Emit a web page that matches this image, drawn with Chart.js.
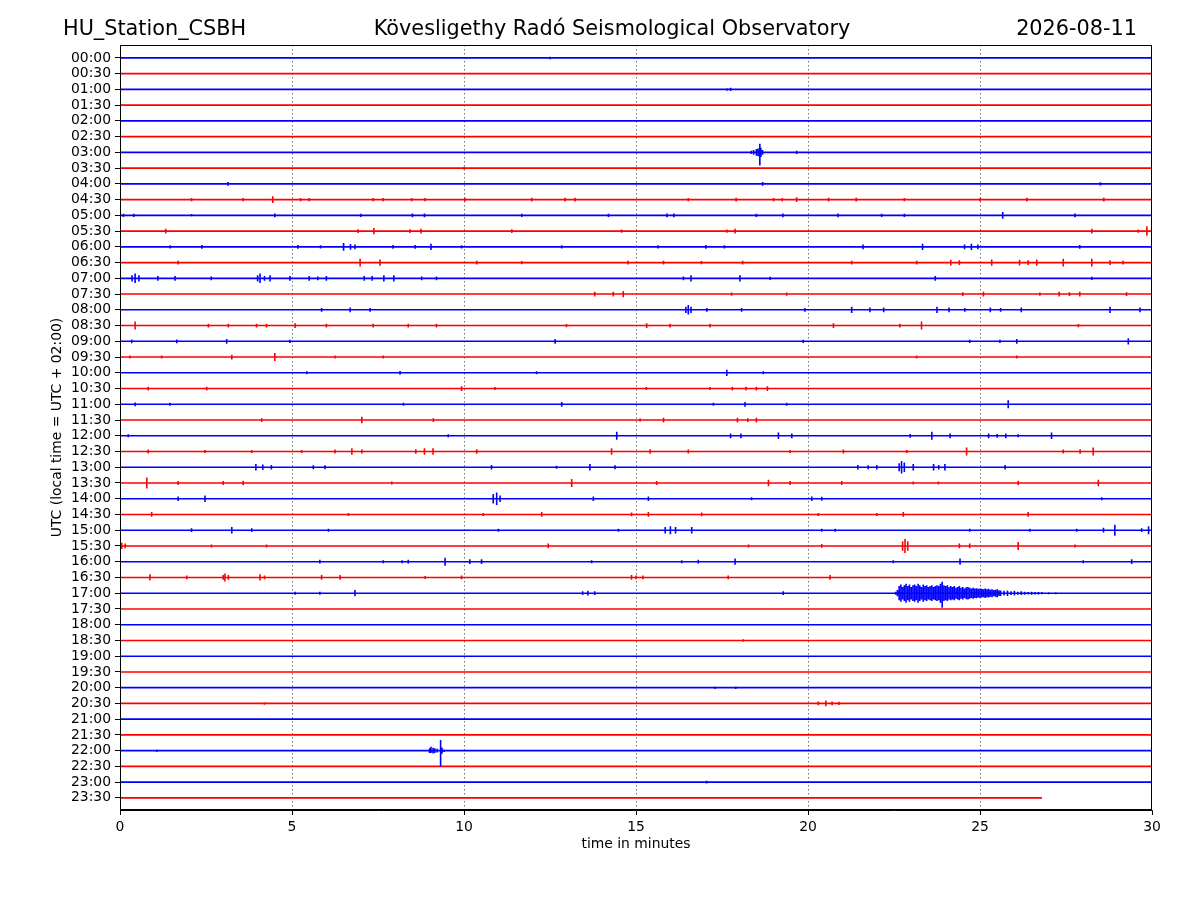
<!DOCTYPE html>
<html lang="en">
<head>
  <meta charset="UTF-8">
  <title>HU_Station_CSBH - helicorder</title>
  <script src="https://cdn.jsdelivr.net/npm/chart.js"></script>
  <style>
    body { margin: 0; background: #fff; }
  </style>
</head>
<body>
  <canvas id="heli" width="1200" height="900"></canvas>

  <script>
    // header texts
    const stationName = 'HU_Station_CSBH';
    const observatory = 'Kövesligethy Radó Seismological Observatory';
    const dayLabel = '2026-08-11';

    // one trace per half hour, top to bottom
    const rowLabels = [
      '00:00', '00:30', '01:00', '01:30', '02:00', '02:30', '03:00', '03:30',
      '04:00', '04:30', '05:00', '05:30', '06:00', '06:30', '07:00', '07:30',
      '08:00', '08:30', '09:00', '09:30', '10:00', '10:30', '11:00', '11:30',
      '12:00', '12:30', '13:00', '13:30', '14:00', '14:30', '15:00', '15:30',
      '16:00', '16:30', '17:00', '17:30', '18:00', '18:30', '19:00', '19:30',
      '20:00', '20:30', '21:00', '21:30', '22:00', '22:30', '23:00', '23:30'
    ];
    const xTicks = [0, 5, 10, 15, 20, 25, 30];
    const lastTraceEnd = 26.8;   // the 23:30 trace stops early

    // bursts per trace: [minute, swing up, swing down (optional)] in trace-spacing units
    const bursts = [
      [[12.5, 0.08]],
      [],
      [[17.65, 0.08], [17.75, 0.1]],
      [],
      [],
      [],
      [[18.35, 0.1], [18.42, 0.15], [18.5, 0.22], [18.55, 0.25], [18.6, 0.54, 0.83], [18.63, 0.3], [18.68, 0.15], [19.67, 0.1]],
      [[10.0, 0.08]],
      [[3.14, 0.12], [18.68, 0.12], [28.5, 0.1]],
      [[2.08, 0.1], [3.58, 0.1], [4.44, 0.22], [5.25, 0.1], [5.5, 0.1], [7.36, 0.1], [7.65, 0.1], [8.48, 0.1], [8.87, 0.1], [10.03, 0.12], [11.97, 0.12], [12.94, 0.12], [13.23, 0.12], [16.52, 0.1], [17.91, 0.12], [19.0, 0.1], [19.25, 0.1], [19.67, 0.15], [20.6, 0.12], [21.4, 0.12], [22.8, 0.1], [25.0, 0.1], [26.36, 0.12], [28.6, 0.12]],
      [[0.1, 0.1], [0.4, 0.1], [2.08, 0.08], [4.5, 0.12], [7.0, 0.1], [8.5, 0.12], [8.85, 0.12], [11.68, 0.1], [14.2, 0.1], [15.9, 0.12], [16.1, 0.12], [18.5, 0.1], [19.27, 0.12], [20.87, 0.12], [22.14, 0.1], [22.8, 0.1], [25.66, 0.22], [27.76, 0.12]],
      [[1.33, 0.15], [6.92, 0.12], [7.38, 0.2], [8.43, 0.12], [8.75, 0.15], [11.39, 0.12], [14.58, 0.1], [17.64, 0.1], [17.88, 0.15], [28.25, 0.15], [29.6, 0.1], [29.85, 0.3]],
      [[1.46, 0.1], [2.38, 0.12], [5.17, 0.12], [5.83, 0.1], [6.5, 0.25], [6.7, 0.18], [6.83, 0.15], [7.94, 0.12], [8.58, 0.12], [9.04, 0.2], [9.93, 0.1], [12.84, 0.1], [15.64, 0.1], [17.03, 0.12], [17.57, 0.1], [21.6, 0.15], [23.33, 0.2], [24.55, 0.15], [24.75, 0.2], [24.94, 0.15], [27.9, 0.12]],
      [[1.69, 0.12], [6.98, 0.25], [7.56, 0.2], [10.37, 0.12], [11.68, 0.1], [14.77, 0.12], [15.8, 0.12], [16.9, 0.1], [18.1, 0.12], [21.27, 0.12], [23.16, 0.12], [24.15, 0.18], [24.4, 0.15], [25.34, 0.2], [26.15, 0.18], [26.4, 0.15], [26.65, 0.2], [27.42, 0.25], [28.25, 0.25], [28.78, 0.15], [29.16, 0.12]],
      [[0.35, 0.2], [0.44, 0.3], [0.55, 0.2], [1.1, 0.15], [1.6, 0.15], [2.65, 0.12], [4.0, 0.2], [4.07, 0.3], [4.2, 0.15], [4.36, 0.2], [4.94, 0.15], [5.5, 0.15], [5.75, 0.12], [6.0, 0.15], [7.1, 0.15], [7.33, 0.15], [7.67, 0.2], [7.96, 0.2], [8.77, 0.12], [9.2, 0.12], [16.38, 0.12], [16.6, 0.2], [18.02, 0.2], [18.9, 0.1], [23.7, 0.15], [28.25, 0.1]],
      [[13.8, 0.15], [14.34, 0.15], [14.63, 0.2], [17.78, 0.1], [19.38, 0.1], [24.5, 0.12], [25.1, 0.15], [26.74, 0.1], [27.3, 0.15], [27.6, 0.12], [27.9, 0.15], [29.26, 0.12]],
      [[5.86, 0.12], [6.69, 0.15], [7.27, 0.12], [16.45, 0.2], [16.52, 0.3], [16.6, 0.2], [17.06, 0.12], [18.07, 0.12], [19.91, 0.12], [21.27, 0.2], [21.8, 0.15], [22.2, 0.15], [23.75, 0.2], [24.1, 0.15], [24.56, 0.12], [25.3, 0.15], [25.6, 0.12], [26.2, 0.15], [28.78, 0.2], [29.65, 0.15]],
      [[0.44, 0.25], [2.57, 0.12], [3.15, 0.12], [3.97, 0.12], [4.26, 0.12], [5.09, 0.15], [6.0, 0.12], [7.36, 0.12], [8.38, 0.12], [9.2, 0.12], [12.98, 0.1], [15.31, 0.15], [15.99, 0.12], [17.15, 0.12], [20.74, 0.15], [22.67, 0.12], [23.3, 0.25], [27.86, 0.1]],
      [[0.34, 0.12], [1.65, 0.12], [3.1, 0.15], [4.94, 0.1], [12.65, 0.15], [19.86, 0.1], [24.7, 0.1], [25.58, 0.1], [26.07, 0.15], [29.31, 0.2]],
      [[0.29, 0.1], [1.21, 0.1], [3.25, 0.15], [4.5, 0.25], [6.25, 0.1], [7.65, 0.1], [23.16, 0.1], [26.07, 0.1]],
      [[5.43, 0.1], [8.14, 0.12], [12.11, 0.1], [17.64, 0.2], [18.7, 0.1]],
      [[0.82, 0.12], [2.52, 0.12], [9.93, 0.15], [10.9, 0.1], [15.3, 0.1], [17.15, 0.1], [17.8, 0.12], [18.2, 0.12], [18.5, 0.12], [18.82, 0.15]],
      [[0.44, 0.12], [1.45, 0.1], [8.24, 0.1], [12.84, 0.15], [17.25, 0.1], [18.17, 0.15], [19.38, 0.1], [25.82, 0.25]],
      [[4.12, 0.12], [7.03, 0.2], [9.11, 0.12], [15.12, 0.1], [15.8, 0.15], [17.95, 0.15], [18.25, 0.12], [18.5, 0.15]],
      [[0.24, 0.1], [9.54, 0.1], [14.44, 0.25], [17.75, 0.15], [18.05, 0.15], [19.14, 0.2], [19.53, 0.15], [22.97, 0.12], [23.6, 0.25], [24.13, 0.15], [25.25, 0.15], [25.5, 0.12], [25.75, 0.15], [26.11, 0.1], [27.08, 0.2]],
      [[0.82, 0.12], [2.47, 0.1], [3.83, 0.1], [5.28, 0.1], [6.25, 0.12], [6.74, 0.2], [7.03, 0.12], [8.6, 0.15], [8.85, 0.2], [9.1, 0.2], [10.37, 0.15], [14.29, 0.2], [15.41, 0.15], [16.52, 0.12], [19.48, 0.1], [21.03, 0.12], [22.87, 0.1], [24.61, 0.25], [27.42, 0.12], [27.91, 0.15], [28.29, 0.25]],
      [[3.95, 0.2], [4.15, 0.18], [4.4, 0.15], [5.62, 0.12], [5.96, 0.12], [10.8, 0.15], [12.69, 0.1], [13.66, 0.2], [14.39, 0.12], [21.45, 0.15], [21.75, 0.12], [22.0, 0.15], [22.65, 0.25], [22.72, 0.4], [22.8, 0.3], [23.06, 0.2], [23.65, 0.2], [23.8, 0.15], [23.98, 0.2], [25.73, 0.15]],
      [[0.78, 0.35], [1.69, 0.12], [3.0, 0.12], [3.58, 0.15], [7.9, 0.1], [13.13, 0.25], [15.6, 0.12], [18.85, 0.2], [19.48, 0.12], [20.98, 0.12], [23.06, 0.1], [23.79, 0.1], [26.11, 0.15], [28.44, 0.2]],
      [[1.69, 0.15], [2.47, 0.2], [10.85, 0.3], [10.95, 0.4], [11.05, 0.2], [13.76, 0.15], [15.36, 0.15], [18.36, 0.1], [20.11, 0.15], [20.4, 0.12], [28.54, 0.1]],
      [[0.92, 0.15], [6.64, 0.1], [10.56, 0.1], [12.26, 0.15], [14.87, 0.12], [15.36, 0.15], [16.91, 0.12], [20.3, 0.1], [22.0, 0.1], [22.77, 0.15], [26.4, 0.15]],
      [[2.08, 0.12], [3.25, 0.2], [3.83, 0.12], [6.06, 0.1], [11.0, 0.1], [14.49, 0.1], [15.85, 0.2], [16.0, 0.25], [16.15, 0.2], [16.62, 0.2], [20.4, 0.1], [20.79, 0.1], [24.7, 0.1], [26.45, 0.1], [27.81, 0.1], [28.59, 0.15], [28.92, 0.35], [29.7, 0.12], [29.9, 0.25]],
      [[0.05, 0.2], [0.15, 0.15], [2.66, 0.1], [4.26, 0.1], [12.45, 0.15], [18.27, 0.1], [20.4, 0.12], [22.75, 0.3], [22.82, 0.45], [22.9, 0.3], [24.4, 0.15], [24.7, 0.15], [26.11, 0.25], [27.76, 0.1]],
      [[5.81, 0.12], [7.65, 0.1], [8.2, 0.1], [8.38, 0.12], [9.45, 0.25], [10.17, 0.15], [10.51, 0.15], [13.71, 0.1], [16.33, 0.1], [16.81, 0.12], [17.88, 0.2], [22.48, 0.1], [24.42, 0.2], [28.0, 0.1], [29.41, 0.15]],
      [[0.87, 0.2], [1.94, 0.12], [3.0, 0.15], [3.05, 0.25], [3.15, 0.15], [4.07, 0.2], [4.2, 0.12], [5.86, 0.15], [6.4, 0.15], [8.87, 0.1], [9.93, 0.12], [14.87, 0.15], [15.0, 0.12], [15.2, 0.12], [17.68, 0.12], [20.64, 0.15]],
      [[5.09, 0.1], [5.81, 0.1], [6.83, 0.2], [13.45, 0.12], [13.6, 0.15], [13.8, 0.12], [19.28, 0.12]],
      [],
      [],
      [[18.12, 0.08]],
      [],
      [],
      [[17.3, 0.08], [17.9, 0.08]],
      [[4.2, 0.08], [20.3, 0.12], [20.52, 0.18], [20.7, 0.12], [20.9, 0.1]],
      [],
      [],
      [[1.07, 0.08], [9.0, 0.15], [9.04, 0.24, 0.15], [9.1, 0.18], [9.15, 0.15], [9.22, 0.12], [9.32, 0.67, 1.0], [9.36, 0.2], [9.42, 0.08]],
      [],
      [[17.05, 0.08]],
      []
    ];

    // the long quake on the 17:00 trace, envelope read every 0.05 min
    const quakeRow = 34;
    const quake1700 = [
      [22.55, 0.1], [22.6, 0.2], [22.65, 0.45], [22.7, 0.55], [22.75, 0.4], [22.8, 0.5], [22.85, 0.6], [22.9, 0.45],
      [22.95, 0.55], [23.0, 0.4], [23.05, 0.5], [23.1, 0.55], [23.15, 0.45], [23.2, 0.6], [23.25, 0.5], [23.3, 0.4],
      [23.35, 0.55], [23.4, 0.45], [23.45, 0.5], [23.5, 0.4], [23.55, 0.45], [23.6, 0.5], [23.65, 0.4], [23.7, 0.45],
      [23.75, 0.5], [23.8, 0.45], [23.85, 0.6], [23.9, 0.72, 0.93], [23.95, 0.5], [24.0, 0.45], [24.05, 0.5], [24.1, 0.4],
      [24.15, 0.45], [24.2, 0.4], [24.25, 0.45], [24.3, 0.35], [24.35, 0.4], [24.4, 0.45], [24.45, 0.35], [24.5, 0.4],
      [24.55, 0.3], [24.6, 0.38], [24.65, 0.4], [24.7, 0.35], [24.75, 0.3], [24.8, 0.35], [24.85, 0.3], [24.9, 0.32],
      [24.95, 0.28], [25.0, 0.3], [25.05, 0.28], [25.1, 0.25], [25.15, 0.3], [25.2, 0.25], [25.25, 0.28], [25.3, 0.22],
      [25.35, 0.25], [25.4, 0.2], [25.45, 0.22], [25.5, 0.25], [25.55, 0.18], [25.6, 0.17], [25.7, 0.15], [25.8, 0.17],
      [25.9, 0.12], [26.0, 0.15], [26.1, 0.1], [26.2, 0.12], [26.3, 0.1], [26.4, 0.08], [26.5, 0.1], [26.6, 0.08],
      [26.7, 0.08], [26.8, 0.07], [27.0, 0.06], [27.2, 0.06], [27.4, 0.05], [27.6, 0.05]
    ];

    const FONT = '"DejaVu Sans", "Liberation Sans", sans-serif';

    // each burst becomes a vertical stroke on the trace's baseline
    function tracePoints(r) {
      const events = (r === quakeRow ? bursts[r].concat(quake1700) : bursts[r].slice())
        .sort((a, b) => a[0] - b[0]);
      const end = r === rowLabels.length - 1 ? lastTraceEnd : 30;
      const pts = [{ x: 0, y: r }];
      events.forEach(([t, up, down]) => {
        pts.push({ x: t, y: r }, { x: t, y: r - up }, { x: t, y: r + (down ?? up) }, { x: t, y: r });
      });
      pts.push({ x: end, y: r });
      return pts;
    }

    const headerAndFrame = {
      id: 'headerAndFrame',
      afterDraw(chart) {
        const { ctx, chartArea: a } = chart;
        ctx.save();
        ctx.strokeStyle = '#000';
        ctx.lineWidth = 1;
        ctx.strokeRect(Math.round(a.left) + 0.5, Math.round(a.top) + 0.5,
          Math.round(a.right - a.left) - 1, Math.round(a.bottom - a.top) - 1);
        ctx.fillStyle = '#000';
        ctx.font = '20.8px ' + FONT;
        ctx.textBaseline = 'alphabetic';
        ctx.textAlign = 'left';
        ctx.fillText(stationName, 63, 35);
        ctx.textAlign = 'center';
        ctx.fillText(observatory, 612, 35);
        ctx.textAlign = 'right';
        ctx.fillText(dayLabel, 1137, 35);
        ctx.restore();
      }
    };

    const ctx = document.getElementById('heli').getContext('2d');
    const heli = new Chart(ctx, {
      type: 'line',
      data: {
        datasets: rowLabels.map((lab, r) => ({
          label: lab,
          data: tracePoints(r),
          borderColor: r % 2 ? '#ff0000' : '#0000ff',
          borderWidth: 1.6,
          pointRadius: 0,
          tension: 0,
          fill: false
        }))
      },
      options: {
        responsive: false,
        animation: false,
        events: [],
        layout: { padding: { left: 0, right: 48, top: 45, bottom: 40 } },
        plugins: { legend: { display: false }, tooltip: { enabled: false } },
        scales: {
          x: {
            type: 'linear',
            min: 0,
            max: 30,
            afterFit: (s) => { s.height = 50; },
            afterBuildTicks: (s) => { s.ticks = xTicks.map(v => ({ value: v })); },
            ticks: { color: '#000', font: { family: FONT, size: 13.9 }, padding: 4, maxRotation: 0, callback: v => String(v) },
            grid: {
              color: c => (c.tick && (c.tick.value === 0 || c.tick.value === 30)) ? 'rgba(0,0,0,0)' : 'rgba(0,0,0,0.7)',
              lineWidth: 0.8,
              tickColor: '#000',
              tickWidth: 1,
              tickLength: 5
            },
            border: { color: '#000', width: 1, dash: [1.5, 2.5] },
            title: { display: true, text: 'time in minutes', color: '#000', font: { family: FONT, size: 13.9 }, padding: { top: 0, bottom: 7 } }
          },
          y: {
            type: 'linear',
            reverse: true,
            min: -0.82,
            max: 47.77,
            afterFit: (s) => { s.width = 120; },
            afterBuildTicks: (s) => { s.ticks = rowLabels.map((_, i) => ({ value: i })); },
            ticks: { autoSkip: false, color: '#000', font: { family: FONT, size: 13.9 }, padding: 4, callback: v => rowLabels[v] },
            grid: { drawOnChartArea: false, color: '#000', tickColor: '#000', tickWidth: 1, tickLength: 5 },
            border: { color: '#000', width: 1 },
            title: { display: true, text: 'UTC (local time = UTC + 02:00)', color: '#000', font: { family: FONT, size: 13.9 }, padding: { top: 49, bottom: 0 } }
          }
        }
      },
      plugins: [headerAndFrame]
    });
  </script>
</body>
</html>
